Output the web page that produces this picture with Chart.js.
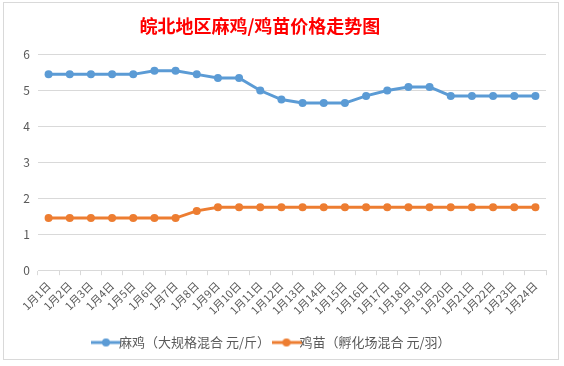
<!DOCTYPE html>
<html>
<head>
<meta charset="utf-8">
<script src="https://cdn.jsdelivr.net/npm/chart.js@4"></script>
<style>
  body { margin: 0; background: #fff; }
  #wrap { position: absolute; left: 3px; top: 2px; width: 556px; height: 358px; border: 1px solid #d9d9d9; box-sizing: border-box; }
</style>
</head>
<body>
<div id="wrap"><canvas id="priceChart"></canvas></div>
<script>
const days = ["1月1日","1月2日","1月3日","1月4日","1月5日","1月6日","1月7日","1月8日","1月9日","1月10日","1月11日","1月12日",
  "1月13日","1月14日","1月15日","1月16日","1月17日","1月18日","1月19日","1月20日","1月21日","1月22日","1月23日","1月24日"];
const maji = [5.45,5.45,5.45,5.45,5.45,5.55,5.55,5.45,5.35,5.35,5.0,4.75,4.65,4.65,4.65,4.85,5.0,5.1,5.1,4.85,4.85,4.85,4.85,4.85];
const jimiao = [1.45,1.45,1.45,1.45,1.45,1.45,1.45,1.65,1.75,1.75,1.75,1.75,1.75,1.75,1.75,1.75,1.75,1.75,1.75,1.75,1.75,1.75,1.75,1.75];
const seriesNames = ["麻鸡（大规格混合 元/斤）", "鸡苗（孵化场混合 元/羽）"];
const titleText = "皖北地区麻鸡/鸡苗价格走势图";

const blue = "#5B9BD5";
const orange = "#ED7D31";

// little line+dot icon for legend
function legendIcon(color) {
  const c = document.createElement("canvas");
  c.width = 30; c.height = 10;
  const g = c.getContext("2d");
  g.strokeStyle = color;
  g.lineWidth = 3;
  g.beginPath(); g.moveTo(0, 5); g.lineTo(30, 5); g.stroke();
  g.fillStyle = color;
  g.beginPath(); g.arc(15, 5, 4, 0, Math.PI * 2); g.fill();
  return c;
}
const icons = [legendIcon(blue), legendIcon(orange)];

const canvas = document.getElementById("priceChart");
canvas.width = 554; canvas.height = 356;

new Chart(canvas.getContext("2d"), {
  type: "line",
  data: {
    labels: days,
    datasets: [
      {
        label: seriesNames[0],
        data: maji,
        borderColor: blue,
        backgroundColor: blue,
        borderWidth: 3,
        pointRadius: 4,
        pointBorderWidth: 0,
        tension: 0,
      },
      {
        label: seriesNames[1],
        data: jimiao,
        borderColor: orange,
        backgroundColor: orange,
        borderWidth: 3,
        pointRadius: 4,
        pointBorderWidth: 0,
        tension: 0,
      },
    ],
  },
  options: {
    responsive: false,
    animation: false,
    layout: { padding: { left: 0, right: 12, top: 0, bottom: 0 } },
    plugins: {
      title: {
        display: true,
        // trailing spaces nudge the centred title a bit left, like the original
        text: titleText + "\u3000   ",
        color: "#FF0000",
        font: { family: "Noto Sans CJK SC", size: 18, weight: "bold" },
        padding: { top: 12, bottom: 18 },
      },
      legend: {
        position: "bottom",
        labels: {
          usePointStyle: true,
          color: "#595959",
          font: { family: "Noto Sans CJK SC", size: 13 },
          padding: 10,
          generateLabels: (chart) =>
            Chart.defaults.plugins.legend.labels.generateLabels(chart).map((item, i) => {
              item.pointStyle = icons[i];
              return item;
            }),
        },
      },
      tooltip: { enabled: false },
    },
    scales: {
      x: {
        offset: true,
        grid: { offset: true, drawOnChartArea: false, color: "#d9d9d9", tickLength: 5 },
        border: { color: "#d9d9d9" },
        ticks: {
          color: "#595959",
          font: { family: "Noto Sans CJK SC", size: 11 },
          minRotation: 45,
          maxRotation: 45,
          autoSkip: false,
          padding: 4,
        },
        afterFit: (scale) => { scale.height += 5; },
      },
      y: {
        min: 0,
        max: 6,
        ticks: { stepSize: 1, color: "#595959", font: { family: "Noto Sans CJK SC", size: 12 }, padding: 8 },
        grid: { color: "#d9d9d9", drawTicks: false },
        border: { display: false },
        afterFit: (scale) => { scale.width = 34; },
      },
    },
  },
});
</script>
</body>
</html>
